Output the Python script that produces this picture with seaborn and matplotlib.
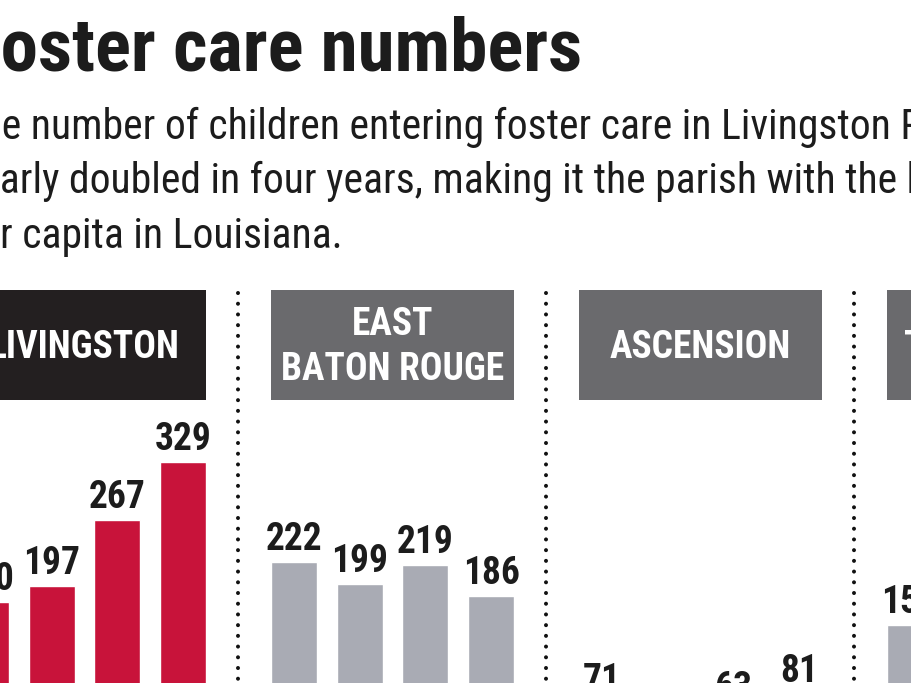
import numpy as np
import pandas as pd
import matplotlib
matplotlib.use("Agg")
import matplotlib.pyplot as plt
import seaborn as sns
from matplotlib import font_manager
from matplotlib.patches import Rectangle
from matplotlib.lines import Line2D

# ---------------- data ----------------
years = ["2012", "2013", "2014", "2015"]
parish_names = ["LIVINGSTON", "EAST\nBATON ROUGE", "ASCENSION", "TANGIPAHOA"]
livingston = [180, 197, 267, 329]
east_baton_rouge = [222, 199, 219, 186]
ascension = [71, 50, 63, 81]
tangipahoa = [155]  # only the first bar is visible

title = "foster care numbers"
subtitle_lines = [
    "The number of children entering foster care in Livingston Parish has",
    "nearly doubled in four years, making it the parish with the highest rate",
    "per capita in Louisiana.",
]

# ---------------- style ----------------
sns.set_theme(style="white")
names = {f.name for f in font_manager.fontManager.ttflist}
FONT = "DejaVu Sans"
for cand in ["Liberation Sans Narrow", "DejaVu Sans Condensed", "Roboto Condensed", "Liberation Sans"]:
    if cand in names:
        FONT = cand
        break
plt.rcParams["font.family"] = [FONT, "DejaVu Sans"]

RED = "#C8133A"
GRAY_BAR = "#A9ABB4"
GRAY_HEAD = "#6A6A6D"
BLACK_HEAD = "#231F20"
TXT = "#1C1C1C"

W, H = 911, 683
fig = plt.figure(figsize=(W / 100, H / 100), dpi=100)
fig.patch.set_facecolor("white")


def fx(x):
    return x / W


def fy(y):
    return 1 - y / H


# title and subtitle
fig.text(fx(582), fy(72), title, ha="right", va="baseline", fontsize=54,
         fontweight="bold", color=TXT)
for i, (line, base) in enumerate(zip(subtitle_lines, [139, 193, 248])):
    fig.text(fx(-40), fy(base), line, ha="left", va="baseline", fontsize=30,
             color=TXT)

# panels
panel_values = [livingston, east_baton_rouge, ascension, tangipahoa]
panel_colors = [RED, GRAY_BAR, GRAY_BAR, GRAY_BAR]
head_colors = [BLACK_HEAD, GRAY_HEAD, GRAY_HEAD, GRAY_HEAD]
PITCH = 308
PW = 243
BAR_W = 46 / 66
BASE_Y = 770
TOP_Y = 420
PX_PER_UNIT = 0.935

for i, (name, vals, col, hcol) in enumerate(zip(parish_names, panel_values, panel_colors, head_colors)):
    left = -37 + PITCH * i
    df = pd.DataFrame({"year": years[:len(vals)], "value": vals})
    ax = fig.add_axes([fx(left), fy(BASE_Y), PW / W, (BASE_Y - TOP_Y) / H])
    sns.barplot(data=df, x="year", y="value", order=years, color=col,
                saturation=1, width=BAR_W, ax=ax, errorbar=None)
    ax.set_xlim(-BAR_W / 2, 3 + BAR_W / 2)
    ax.set_ylim(0, (BASE_Y - TOP_Y) / PX_PER_UNIT)
    ax.axis("off")
    for cont in ax.containers:
        ax.bar_label(cont, fmt="%d", padding=3, fontsize=27, fontweight="bold",
                     color=TXT)

    # header box
    fig.add_artist(Rectangle((fx(left), fy(400)), PW / W, 110 / H,
                             transform=fig.transFigure, facecolor=hcol,
                             edgecolor="none"))
    fig.text(fx(left + PW / 2), fy(347), name, ha="center", va="center",
             fontsize=27, fontweight="bold", color="white", linespacing=1.3)

    # dotted separator
    if i < 3:
        xs = left + PW + 32
        fig.add_artist(Line2D([fx(xs), fx(xs)], [fy(293), fy(690)],
                              transform=fig.transFigure, color="#111111",
                              lw=2.9, linestyle=(0, (0.01, 2.65)),
                              dash_capstyle="round"))

fig.savefig("out.png", dpi=100, facecolor="white")
